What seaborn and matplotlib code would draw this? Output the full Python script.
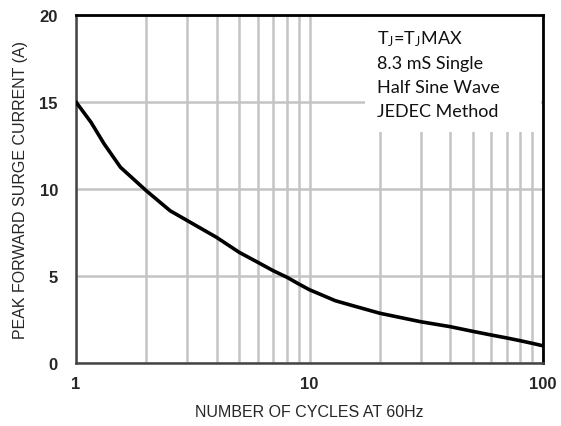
import matplotlib
matplotlib.use("Agg")
import matplotlib.pyplot as plt
import matplotlib.patches as mpatches
from matplotlib.ticker import FixedLocator, NullFormatter
import pandas as pd
import seaborn as sns

# surge current curve
cycles = [1, 1.16, 1.32, 1.55, 2, 2.53, 3, 4, 5, 6, 7, 8, 9, 10, 12.9, 15,
          20, 30, 40, 50, 60, 70, 80, 90, 100]
current = [15.0, 13.83, 12.59, 11.25, 9.90, 8.75, 8.18, 7.22, 6.36, 5.79, 5.30, 4.93, 4.54,
           4.21, 3.58, 3.33, 2.86, 2.37, 2.09, 1.82, 1.61, 1.44, 1.28, 1.13, 0.99]

x_ticks = [1, 10, 100]
y_ticks = [0, 5, 10, 15, 20]
note = "T$_J$=T$_J$MAX\n8.3 mS Single\nHalf Sine Wave\nJEDEC Method"

sns.set_style("white")
plt.rcParams["font.family"] = ["Liberation Sans", "DejaVu Sans"]
plt.rcParams["mathtext.default"] = "regular"
plt.rcParams["xtick.labelsize"] = 12
plt.rcParams["ytick.labelsize"] = 12
plt.rcParams["xtick.major.pad"] = 9
plt.rcParams["ytick.major.pad"] = 13
plt.rcParams["xtick.major.size"] = 0
plt.rcParams["ytick.major.size"] = 0
plt.rcParams["xtick.minor.size"] = 0

df = pd.DataFrame({"cycles": cycles, "current": current})

fig = plt.figure(figsize=(5.61, 4.27), dpi=100)
ax = fig.add_axes([0.1355, 0.1475, 0.8325, 0.815])

ax.set_xscale("log")
ax.set_xlim(1, 100)
ax.set_ylim(0, 20)
ax.set_axisbelow(True)

ax.xaxis.set_major_locator(FixedLocator(x_ticks))
ax.xaxis.set_minor_locator(FixedLocator([2, 3, 4, 5, 6, 7, 8, 9, 20, 30, 40, 50, 60, 70, 80, 90]))
ax.xaxis.set_minor_formatter(NullFormatter())
ax.set_yticks(y_ticks)
ax.grid(True, which="both", axis="x", color="#c4c4c4", lw=1.8)
ax.grid(True, which="major", axis="y", color="#c4c4c4", lw=1.8)

# white panel behind the note hides the grid there
ax.add_patch(mpatches.Rectangle((0.619, 0.664), 0.377, 0.336, transform=ax.transAxes,
                                facecolor="white", edgecolor="none", zorder=1))

sns.lineplot(data=df, x="cycles", y="current", color="black", lw=2.6, ax=ax, zorder=3)
for ln in ax.get_lines():
    ln.set_solid_joinstyle("round")
    ln.set_solid_capstyle("round")

ax.text(0.645, 0.962, note, transform=ax.transAxes, ha="left", va="top",
        fontsize=13, linespacing=1.58, family=["Lato", "DejaVu Sans"], color="#111111", zorder=4)

for side in ["top", "right"]:
    ax.spines[side].set_color("black")
    ax.spines[side].set_linewidth(2)
for side in ["left", "bottom"]:
    ax.spines[side].set_color("#444444")
    ax.spines[side].set_linewidth(1.8)

ax.set_xticklabels([str(t) for t in x_ticks])
ax.set_yticklabels([str(t) for t in y_ticks])
for lab in ax.get_xticklabels() + ax.get_yticklabels():
    lab.set_fontweight("bold")

ax.set_xlabel("NUMBER OF CYCLES AT 60Hz", fontsize=11.5, labelpad=10)
ax.set_ylabel("PEAK FORWARD SURGE CURRENT (A)", fontsize=11.5, labelpad=8)

fig.savefig("out.png", dpi=100)
